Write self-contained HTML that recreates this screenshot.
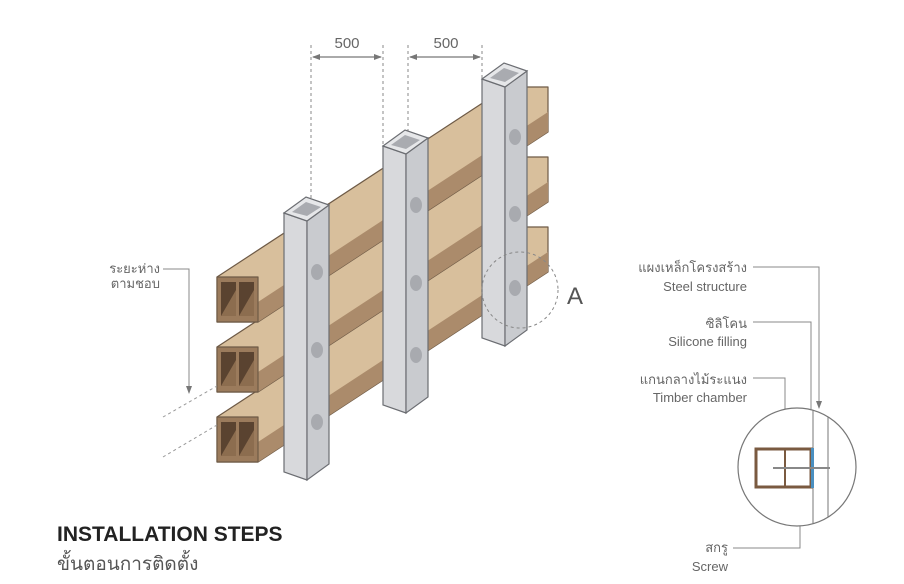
<!DOCTYPE html>
<html><head><meta charset="utf-8"><style>
html,body{margin:0;padding:0;background:#fff;width:904px;height:584px;overflow:hidden}
svg{display:block}
text{font-family:"Liberation Sans","DejaVu Sans","Noto Sans CJK SC",sans-serif}
</style></head><body>
<svg width="904" height="584" viewBox="0 0 904 584" xmlns="http://www.w3.org/2000/svg">
<defs>
<marker id="ar" markerWidth="8" markerHeight="8" refX="7" refY="4" orient="auto" markerUnits="userSpaceOnUse"><path d="M0,1 L8,4 L0,7z" fill="#777"/></marker>
<marker id="al" markerWidth="8" markerHeight="8" refX="1" refY="4" orient="auto" markerUnits="userSpaceOnUse"><path d="M8,1 L0,4 L8,7z" fill="#777"/></marker>
<g id="beam" stroke-linejoin="round">
  <polygon points="217,277 507,87 548,87 548,132 258,322 217,322" fill="#d8bf9c" stroke="#6e5a46" stroke-width="1.2"/>
  <polygon points="258,302 548,112 548,132 258,322" fill="#ab8b6b"/>
  <rect x="217" y="277" width="41" height="45" fill="#9b7b5c" stroke="#6e5a46" stroke-width="1.2"/>
  <rect x="221" y="282" width="15" height="34" fill="#5a4330"/>
  <polygon points="236,290 236,316 221,316" fill="#8c6d4f"/>
  <rect x="239" y="282" width="15" height="34" fill="#5a4330"/>
  <polygon points="254,290 254,316 239,316" fill="#8c6d4f"/>
</g>
<g id="post">
  <polygon points="284,213 307,221 307,480 284,472" fill="#d8d9dc" stroke="#6b6d72" stroke-width="1.2"/>
  <polygon points="307,221 329,205 329,464 307,480" fill="#c9cbcf" stroke="#6b6d72" stroke-width="1.2"/>
  <polygon points="284,213 306,197 329,205 307,221" fill="#e6e7e9" stroke="#6b6d72" stroke-width="1.2"/>
  <polygon points="292,212 306,202 321,207 307,216" fill="#a9abb0"/>
</g>
</defs>

<g stroke="#888" stroke-width="1" stroke-dasharray="3,3" fill="none">
  <line x1="311" y1="45" x2="311" y2="200"/>
  <line x1="383" y1="45" x2="383" y2="150"/>
  <line x1="408" y1="45" x2="408" y2="134"/>
  <line x1="482" y1="45" x2="482" y2="78"/>
</g>
<line x1="313" y1="57" x2="381" y2="57" stroke="#777" stroke-width="1.2" marker-start="url(#al)" marker-end="url(#ar)"/>
<line x1="410" y1="57" x2="480" y2="57" stroke="#777" stroke-width="1.2" marker-start="url(#al)" marker-end="url(#ar)"/>
<text x="347" y="48" font-size="15" fill="#666" text-anchor="middle">500</text>
<text x="446" y="48" font-size="15" fill="#666" text-anchor="middle">500</text>

<use href="#beam" transform="translate(0,140)"/>
<use href="#beam" transform="translate(0,70)"/>
<use href="#beam"/>

<g stroke="#999" stroke-width="1" stroke-dasharray="3,3">
  <line x1="163" y1="417" x2="217" y2="386"/>
  <line x1="163" y1="457" x2="217" y2="425"/>
</g>

<use href="#post" transform="translate(198,-134)"/>
<use href="#post" transform="translate(99,-67)"/>
<use href="#post"/>
<g fill="#a8aaaf">
  <ellipse cx="317" cy="272" rx="6" ry="8"/>
  <ellipse cx="317" cy="350" rx="6" ry="8"/>
  <ellipse cx="317" cy="422" rx="6" ry="8"/>
  <ellipse cx="416" cy="205" rx="6" ry="8"/>
  <ellipse cx="416" cy="283" rx="6" ry="8"/>
  <ellipse cx="416" cy="355" rx="6" ry="8"/>
  <ellipse cx="515" cy="137" rx="6" ry="8"/>
  <ellipse cx="515" cy="214" rx="6" ry="8"/>
  <ellipse cx="515" cy="288" rx="6" ry="8"/>
</g>

<circle cx="520" cy="290" r="38" fill="none" stroke="#888" stroke-width="1" stroke-dasharray="3,3"/>
<text x="567" y="304" font-size="24" fill="#555">A</text>

<text x="160" y="273" font-size="13" fill="#666" text-anchor="end">ระยะห่าง</text>
<text x="160" y="288" font-size="13" fill="#666" text-anchor="end">ตามชอบ</text>
<polyline points="163,269 189,269 189,393" fill="none" stroke="#888" stroke-width="1" marker-end="url(#ar)"/>

<text x="57" y="541" font-size="21" font-weight="bold" fill="#222">INSTALLATION STEPS</text>
<text x="57" y="570" font-size="19" fill="#555">ขั้นตอนการติดตั้ง</text>

<g font-size="13" fill="#666" text-anchor="end">
  <text x="747" y="272">แผงเหล็กโครงสร้าง</text>
  <text x="747" y="291">Steel structure</text>
  <text x="747" y="328">ซิลิโคน</text>
  <text x="747" y="346">Silicone filling</text>
  <text x="747" y="384">แกนกลางไม้ระแนง</text>
  <text x="747" y="402">Timber chamber</text>
  <text x="728" y="552">สกรู</text>
  <text x="728" y="571">Screw</text>
</g>
<g fill="none" stroke="#888" stroke-width="1">
  <polyline points="753,267 819,267 819,408" marker-end="url(#ar)"/>
  <polyline points="753,322 811,322 811,445" marker-end="url(#ar)"/>
  <polyline points="753,378 785,378 785,447" marker-end="url(#ar)"/>
  <polyline points="733,548 800,548 800,472" marker-end="url(#ar)"/>
</g>
<clipPath id="cc"><circle cx="797" cy="467" r="59"/></clipPath>
<circle cx="797" cy="467" r="59" fill="#fff" stroke="#777" stroke-width="1.2"/>
<g clip-path="url(#cc)">
  <line x1="813" y1="400" x2="813" y2="530" stroke="#777" stroke-width="1"/>
  <line x1="828" y1="400" x2="828" y2="530" stroke="#777" stroke-width="1"/>
  <rect x="756" y="449" width="55" height="38" fill="none" stroke="#7a5a40" stroke-width="3"/>
  <line x1="785" y1="449" x2="785" y2="487" stroke="#7a5a40" stroke-width="2"/>
  <rect x="811" y="448" width="3" height="40" fill="#4a8fc0"/>
  <line x1="773" y1="468" x2="830" y2="468" stroke="#888" stroke-width="2"/>
</g>
</svg>
</body></html>
